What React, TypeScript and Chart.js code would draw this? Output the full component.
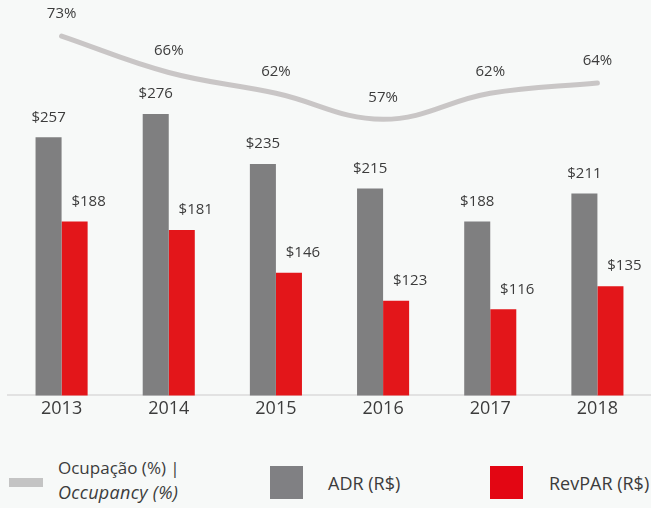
import React, { useEffect, useRef } from "react";
import { Chart, registerables } from "chart.js";

Chart.register(...registerables);

const years = ["2013", "2014", "2015", "2016", "2017", "2018"];
const adr = [257, 276, 235, 215, 188, 211];
const revpar = [188, 181, 146, 123, 116, 135];
const occupancy = [73, 66, 62, 57, 62, 64];

const TEXT = "#3c3c3c";
const FONT = '"Open Sans", "Noto Sans", sans-serif';

const valueLabels = {
  id: "valueLabels",
  afterDatasetsDraw(chart: any) {
    const ctx = chart.ctx;
    ctx.save();
    ctx.font = `15px ${FONT}`;
    ctx.fillStyle = TEXT;
    ctx.textAlign = "center";
    ctx.textBaseline = "middle";
    chart.data.datasets.forEach((ds: any, i: number) => {
      const meta = chart.getDatasetMeta(i);
      const isLine = ds.type === "line";
      const dx = ds.labelShift || 0;
      meta.data.forEach((el: any, j: number) => {
        const v = ds.data[j];
        const text = isLine ? `${v}%` : `$${v}`;
        const off = isLine ? 22 : 20;
        ctx.fillText(text, el.x + dx, el.y - off);
      });
    });
    ctx.restore();
  },
};

export default function App() {
  const ref = useRef<HTMLCanvasElement | null>(null);

  useEffect(() => {
    if (!ref.current) return;
    const chart = new Chart(ref.current, {
      type: "bar",
      data: {
        labels: years,
        datasets: [
          {
            type: "line",
            label: "Ocupação (%) | Occupancy (%)",
            data: occupancy,
            yAxisID: "y2",
            borderColor: "#c9c6c6",
            borderWidth: 5,
            borderCapStyle: "round",
            pointRadius: 0,
            tension: 0.4,
            fill: false,
          } as any,
          {
            type: "bar",
            label: "ADR (R$)",
            data: adr,
            yAxisID: "y",
            backgroundColor: "#7f7f80",
            categoryPercentage: 0.486,
            barPercentage: 1,
          },
          {
            type: "bar",
            label: "RevPAR (R$)",
            data: revpar,
            yAxisID: "y",
            backgroundColor: "#e3161a",
            categoryPercentage: 0.486,
            barPercentage: 1,
            labelShift: 14,
          } as any,
        ],
      },
      options: {
        responsive: false,
        animation: false,
        maintainAspectRatio: false,
        layout: { padding: { left: 8, right: 0, top: 10, bottom: 17 } },
        plugins: {
          legend: { display: false },
          tooltip: { enabled: false },
        },
        scales: {
          x: {
            grid: { display: false, drawTicks: false },
            border: { display: true, color: "#e2e2e2", width: 2 },
            ticks: {
              color: TEXT,
              font: { family: FONT, size: 18 },
              padding: 3,
            },
          },
          y: {
            display: false,
            min: 45.45,
            max: 361.3,
          },
          y2: {
            display: false,
            position: "right",
            min: 3.85,
            max: 78.03,
          },
        },
      },
      plugins: [valueLabels],
    });
    return () => chart.destroy();
  }, []);

  const legendText: React.CSSProperties = {
    position: "absolute",
    fontFamily: FONT,
    fontSize: 17,
    color: TEXT,
    whiteSpace: "nowrap",
  };

  return (
    <div
      style={{
        position: "absolute",
        left: 0,
        top: 0,
        width: 651,
        height: 508,
        background: "#f7f9f8",
        overflow: "hidden",
      }}
    >
      <canvas
        ref={ref}
        width={651}
        height={440}
        style={{ position: "absolute", left: 0, top: 0, width: 651, height: 440 }}
      />
      <div
        style={{
          position: "absolute",
          left: 9,
          top: 478,
          width: 34,
          height: 9,
          background: "#c4c4c4",
        }}
      />
      <div style={{ ...legendText, left: 58, top: 456, lineHeight: "24px" }}>
        <div>Ocupação (%) |</div>
        <div style={{ fontStyle: "italic", fontSize: 18, letterSpacing: 0.3 }}>Occupancy (%)</div>
      </div>
      <div
        style={{
          position: "absolute",
          left: 270,
          top: 466,
          width: 33,
          height: 33,
          background: "#808083",
        }}
      />
      <div style={{ ...legendText, left: 328, top: 470, lineHeight: "26px", fontSize: 18 }}>ADR (R$)</div>
      <div
        style={{
          position: "absolute",
          left: 490,
          top: 466,
          width: 33,
          height: 33,
          background: "#e30613",
        }}
      />
      <div style={{ ...legendText, left: 549, top: 470, lineHeight: "26px", fontSize: 18 }}>RevPAR (R$)</div>
    </div>
  );
}
